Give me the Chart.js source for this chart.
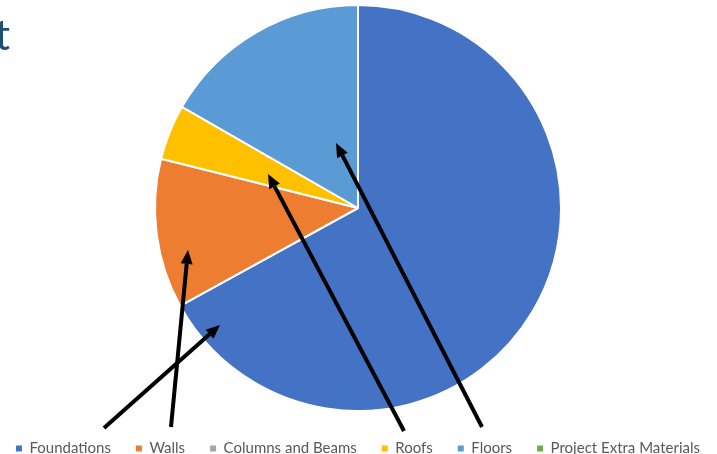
<!DOCTYPE html>
<html>
<head>
<meta charset="utf-8">
<script src="https://cdn.jsdelivr.net/npm/chart.js@4.4.1/dist/chart.umd.min.js"></script>
<style>
  html, body { margin: 0; padding: 0; background: #fff; overflow: hidden; }
  #wrap { position: relative; width: 717px; height: 454px; overflow: hidden; }
  #box { position: absolute; left: -17px; top: 0; width: 750px; height: 474px; }
  #title { position: absolute; left: -5px; top: 13px; font-family: Lato, sans-serif;
           font-size: 42px; color: #1F4E79; line-height: 1; }
</style>
</head>
<body>
<div id="wrap">
  <div id="box"><canvas id="costPie"></canvas></div>
  <div id="title">t</div>
</div>
<script>
  // chart data
  const categories = ["Foundations", "Walls", "Columns and Beams", "Roofs", "Floors", "Project Extra Materials"];
  const shares = [67.0, 11.9, 0, 4.4, 16.7, 0];
  const sliceColors = ["#4472C4", "#ED7D31", "#A5A5A5", "#FFC000", "#5B9BD5", "#70AD47"];

  // hand-drawn arrows on the slide, page pixels: [tailX, tailY, tipX, tipY]
  const arrows = [
    [104, 428, 220, 325],
    [171, 427, 188, 250],
    [404, 431, 268, 174],
    [482, 427, 336, 143]
  ];
  const canvasShift = 17; // canvas sits 17px left of the page edge

  const arrowPlugin = {
    id: 'arrows',
    afterDraw: function (chart) {
      const ctx = chart.ctx;
      ctx.save();
      ctx.translate(canvasShift, 0);
      ctx.strokeStyle = '#000';
      ctx.fillStyle = '#000';
      ctx.lineWidth = 4;
      arrows.forEach(function (a) {
        const ang = Math.atan2(a[3] - a[1], a[2] - a[0]);
        const len = 14, half = 6;
        const bx = a[2] - Math.cos(ang) * len;
        const by = a[3] - Math.sin(ang) * len;
        ctx.beginPath();
        ctx.moveTo(a[0], a[1]);
        ctx.lineTo(bx, by);
        ctx.stroke();
        ctx.beginPath();
        ctx.moveTo(a[2], a[3]);
        ctx.lineTo(bx + Math.sin(ang) * half, by - Math.cos(ang) * half);
        ctx.lineTo(bx - Math.sin(ang) * half, by + Math.cos(ang) * half);
        ctx.closePath();
        ctx.fill();
      });
      ctx.restore();
    }
  };

  new Chart(document.getElementById('costPie'), {
    type: 'pie',
    data: {
      labels: categories,
      datasets: [{
        data: shares,
        backgroundColor: sliceColors,
        borderColor: '#FFFFFF',
        borderWidth: 2,
        radius: 203
      }]
    },
    options: {
      responsive: true,
      maintainAspectRatio: false,
      animation: false,
      layout: {
        padding: { top: 0, bottom: 8, left: 0, right: 0 }
      },
      plugins: {
        tooltip: { enabled: false },
        legend: {
          position: 'bottom',
          labels: {
            boxWidth: 6,
            boxHeight: 6,
            padding: 25,
            color: '#595959',
            font: { family: 'Lato', size: 15 },
            generateLabels: function (chart) {
              return chart.data.labels.map(function (label, i) {
                return {
                  text: label,
                  fillStyle: sliceColors[i],
                  strokeStyle: sliceColors[i],
                  lineWidth: 0,
                  fontColor: '#595959',
                  hidden: false,
                  index: i
                };
              });
            }
          }
        }
      }
    },
    plugins: [arrowPlugin]
  });
</script>
</body>
</html>
